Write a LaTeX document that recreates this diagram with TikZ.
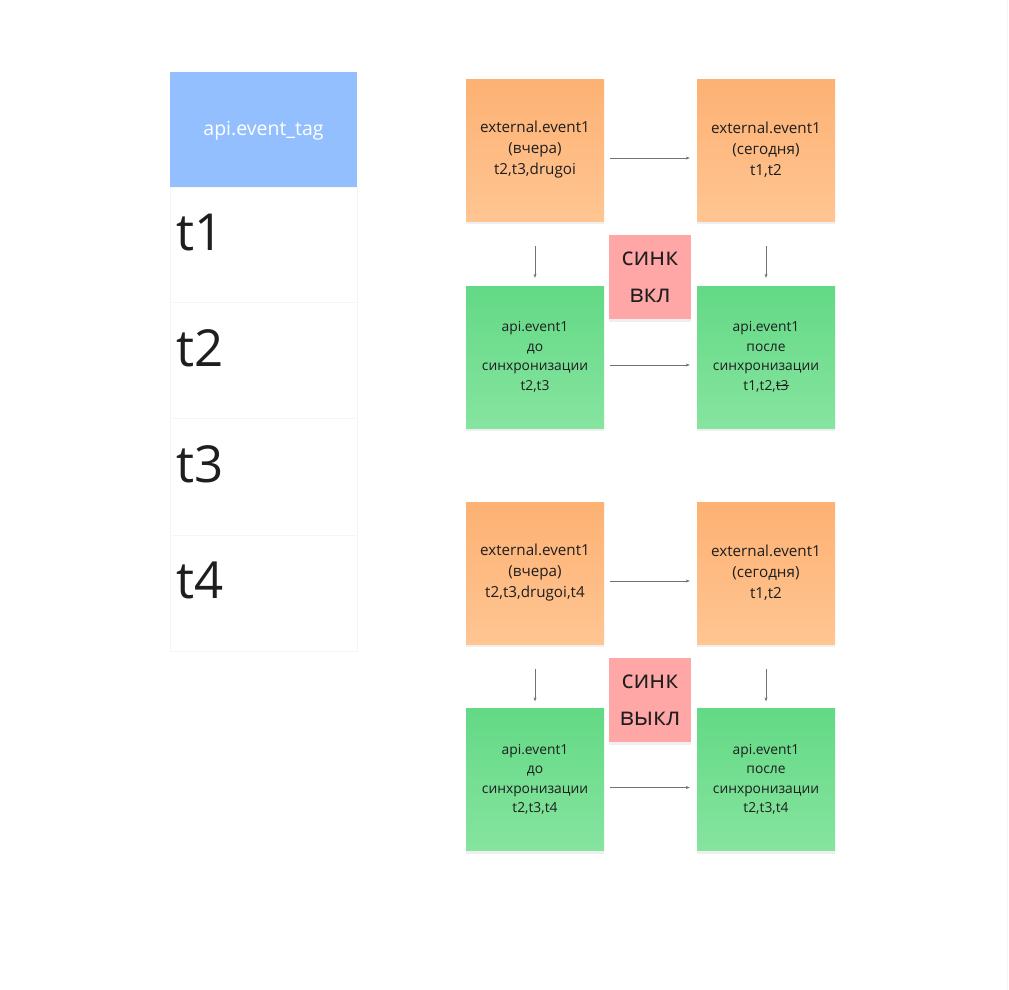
\documentclass[tikz,border=0pt]{standalone}
\usepackage{fontspec}
\setmainfont{Open Sans}
\usetikzlibrary{shadows,arrows.meta}
\definecolor{orT}{HTML}{FDB173}
\definecolor{orB}{HTML}{FFC592}
\definecolor{grT}{HTML}{63D985}
\definecolor{grB}{HTML}{86E49F}
\definecolor{pk}{HTML}{FFA6A6}
\definecolor{bl}{HTML}{93BFFF}
\definecolor{ln}{HTML}{F5F5F5}
\definecolor{txt}{HTML}{1E1E1E}
\newcommand\strk[1]{\setbox0\hbox{#1}\rlap{#1}\rule[0.32em]{\wd0}{0.6pt}}
\begin{document}
\begin{tikzpicture}[x=1pt,y=-1pt,
  card/.style={minimum width=138pt,minimum height=142pt,inner sep=0pt,align=center,
    font=\fontsize{15.2}{21}\selectfont,text=txt,
    drop shadow={opacity=0.12,shadow xshift=0pt,shadow yshift=-3pt}},
  orcard/.style={card,top color=orT,bottom color=orB},
  grcard/.style={card,top color=grT,bottom color=grB,font=\fontsize{13.8}{19.5}\selectfont},
  pkcard/.style={minimum width=82pt,minimum height=84pt,inner sep=0pt,align=center,fill=pk,
    font=\fontsize{25}{37}\selectfont,text=txt,
    drop shadow={opacity=0.12,shadow xshift=0pt,shadow yshift=-3pt}},
  cell/.style={draw=ln,line width=0.6pt,minimum width=187pt,inner sep=0pt},
  big/.style={font=\fontsize{51}{51}\selectfont,text=txt,anchor=west,inner sep=0pt},
  conn/.style={draw=black!55,line width=0.5pt,-{Stealth[length=4pt,width=3pt]}}
]
\useasboundingbox (0,0) rectangle (1009,990);
\fill[white] (0,0) rectangle (1009,990);
\draw[ln,line width=1.2pt] (1007.5,0) -- (1007.5,990);

% table
\node[cell,minimum height=115pt] (r1) at (263.5,244.5) {};
\node[cell,minimum height=116pt] (r2) at (263.5,360) {};
\node[cell,minimum height=117pt] (r3) at (263.5,476.5) {};
\node[cell,minimum height=116pt] (r4) at (263.5,593) {};
\node[cell,minimum height=115pt,fill=bl,draw=none] (hdr) at (263.5,129.5) {};
\node[text=white,font=\fontsize{19.5}{19.5}\selectfont,inner sep=0pt] (hdrlbl) at (263.5,131) {api.event\_tag};
\node[big] (t1) at (176,233) {t1};
\node[big] (t2) at (176,348) {t2};
\node[big] (t3) at (176,464) {t3};
\node[big] (t4) at (176,580) {t4};

% group 1
\node[orcard] (o1) at (535,150) {external.event1\\(вчера)\\t2,t3,drugoi};
\node[orcard] (o2) at (766,150) {external.event1\\(сегодня)\\t1,t2};
\node[grcard] (g1) at (535,357) {api.event1\\до\\синхронизации\\t2,t3};
\node[grcard] (g2) at (766,357) {api.event1\\после\\синхронизации\\t1,t2,\strk{t3}};
\node[pkcard] (p1) at (650,277) {синк\\вкл};
\draw[conn,shorten <=6pt,shorten >=7pt] ([yshift=-8pt]o1.east) -- ([yshift=-8pt]o2.west);
\draw[conn,shorten <=6pt,shorten >=7pt] ([yshift=-8pt]g1.east) -- ([yshift=-8pt]g2.west);
\draw[conn,shorten <=25pt,shorten >=8pt] (o1.south) -- (g1.north);
\draw[conn,shorten <=25pt,shorten >=8pt] (o2.south) -- (g2.north);

% group 2
\node[orcard] (o3) at (535,573) {external.event1\\(вчера)\\t2,t3,drugoi,t4};
\node[orcard] (o4) at (766,573) {external.event1\\(сегодня)\\t1,t2};
\node[grcard] (g3) at (535,779.5) {api.event1\\до\\синхронизации\\t2,t3,t4};
\node[grcard] (g4) at (766,779.5) {api.event1\\после\\синхронизации\\t2,t3,t4};
\node[pkcard] (p2) at (650,700) {синк\\выкл};
\draw[conn,shorten <=6pt,shorten >=7pt] ([yshift=-8pt]o3.east) -- ([yshift=-8pt]o4.west);
\draw[conn,shorten <=6pt,shorten >=7pt] ([yshift=-8pt]g3.east) -- ([yshift=-8pt]g4.west);
\draw[conn,shorten <=25pt,shorten >=7pt] (o3.south) -- (g3.north);
\draw[conn,shorten <=25pt,shorten >=7pt] (o4.south) -- (g4.north);
\end{tikzpicture}
\end{document}
